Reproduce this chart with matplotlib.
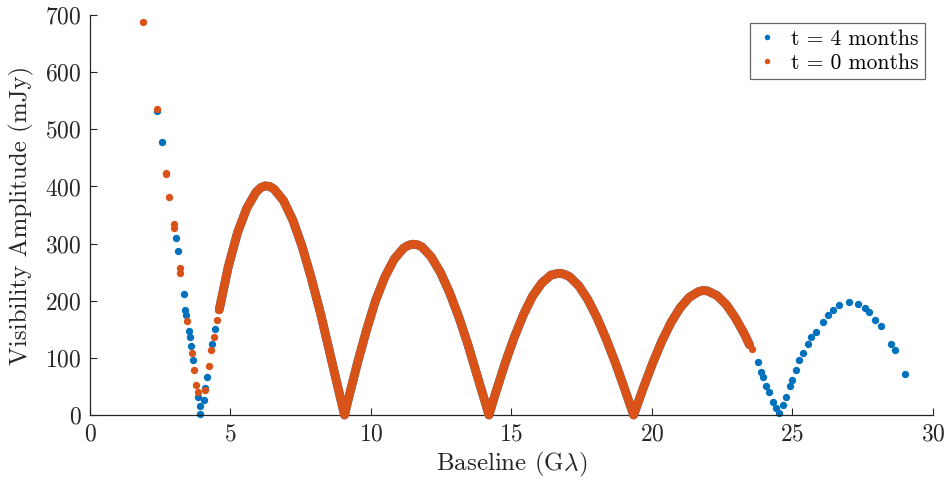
import matplotlib
matplotlib.use("Agg")
import matplotlib.pyplot as plt

plt.rcParams['font.family'] = 'cmr10'
plt.rcParams['mathtext.fontset'] = 'cm'
plt.rcParams['axes.unicode_minus'] = False
plt.rcParams['axes.formatter.use_mathtext'] = True

BLUE = '#0072BD'
ORANGE = '#D95319'
AXC = '#262626'

# densely sampled lobes, covered by both epochs
lobe_baseline = [4.60, 4.92, 5.25, 5.58, 5.91, 6.08, 6.24, 6.40, 6.56, 6.89, 7.22, 7.55, 7.88, 8.21,
                 8.53, 8.86, 9.06, 9.19, 9.52, 9.85, 10.17, 10.50, 10.83, 11.16, 11.33, 11.49,
                 11.65, 11.82, 12.14, 12.47, 12.80, 13.13, 13.46, 13.78, 14.11, 14.20, 14.44,
                 14.77, 15.10, 15.43, 15.75, 16.08, 16.41, 16.58, 16.74, 16.90, 17.07, 17.40, 17.72,
                 18.05, 18.38, 18.71, 19.04, 19.35, 19.69, 20.02, 20.35, 20.68, 21.01,
                 21.33, 21.66, 21.83, 21.99, 22.32, 22.65, 22.97, 23.30, 23.47]
lobe_amp = [184, 259, 319, 362, 390, 398, 401, 400, 395, 375, 341, 295, 239, 177,
            110, 41, 0, 27, 91, 150, 201, 242, 273, 292, 297, 299,
            298, 294, 277, 250, 214, 171, 122, 69, 15, 0, 39,
            90, 136, 176, 208, 231, 245, 247, 248, 246, 242, 226, 202,
            170, 132, 90, 44, 0, 47, 90, 129, 162, 188,
            206, 216, 218, 217, 209, 193, 170, 141, 123]

# isolated samples, t = 0 months
t0_baseline = [1.90, 2.38, 2.71, 2.72, 2.83, 2.98, 3.00, 3.19, 3.21, 3.45, 3.63, 3.71,
               3.79, 3.83, 4.11, 4.23, 4.31, 4.40, 4.52, 23.39, 23.55]
t0_amp = [687, 535, 424, 421, 381, 335, 328, 257, 249, 165, 108, 78,
          53, 40, 44, 85, 114, 137, 166, 131, 115]

# isolated samples, t = 4 months
t4_baseline = [2.40, 2.56, 3.05, 3.12, 3.33, 3.40, 3.43, 3.51, 3.55, 3.60, 3.67, 3.83,
               3.90, 3.93, 4.05, 4.11, 4.17, 4.35, 4.45,
               23.77, 23.89, 23.97, 24.07, 24.16, 24.30, 24.42, 24.54, 24.66, 24.78,
               24.90, 24.99, 25.13, 25.25, 25.37, 25.55, 25.67, 25.85, 26.08, 26.26,
               26.43, 26.67, 27.03, 27.32, 27.59, 27.74, 27.95, 28.16, 28.52, 28.64, 29.02]
t4_amp = [532, 477, 309, 287, 212, 184, 175, 147, 136, 120, 97, 32,
          15, 1, 27, 47, 66, 125, 150,
          92, 76, 67, 51, 41, 23, 12, 3, 17, 32,
          50, 61, 79, 96, 108, 125, 137, 146, 163, 175,
          184, 193, 197, 194, 187, 181, 167, 156, 125, 114, 72]

fig = plt.figure(figsize=(9.5, 4.87), dpi=100)
ax = fig.add_axes([0.0947, 0.1478, 0.8873, 0.8213])

ms = 5.3
lw = 6.3
# t = 4 months
ax.plot(lobe_baseline, lobe_amp, '-', color=BLUE, lw=lw, solid_capstyle='round',
        solid_joinstyle='round', clip_on=False, zorder=2)
ax.plot(t4_baseline, t4_amp, 'o', ls='none', color=BLUE, ms=ms, mew=0,
        clip_on=False, zorder=2, label='t = 4 months')
# t = 0 months
ax.plot(lobe_baseline, lobe_amp, '-', color=ORANGE, lw=lw, solid_capstyle='round',
        solid_joinstyle='round', clip_on=False, zorder=3)
ax.plot(t0_baseline, t0_amp, 'o', ls='none', color=ORANGE, ms=ms, mew=0,
        clip_on=False, zorder=3, label='t = 0 months')

ax.set_xlim(0, 30)
ax.set_ylim(0, 700)
ax.set_xticks(range(0, 31, 5))
ax.set_yticks(range(0, 701, 100))

for s in ['top', 'right']:
    ax.spines[s].set_visible(False)
for s in ['left', 'bottom']:
    ax.spines[s].set_color(AXC)
    ax.spines[s].set_linewidth(0.9)

ax.tick_params(direction='in', length=5, width=0.8, colors=AXC, labelsize=17, pad=6)

ax.set_xlabel(r'Baseline (G$\lambda$)', fontsize=18, color=AXC, labelpad=3)
ax.set_ylabel('Visibility Amplitude (mJy)', fontsize=18, color=AXC, labelpad=8)

leg = ax.legend(loc='upper right', bbox_to_anchor=(0.9905, 0.98), borderaxespad=0,
                fontsize=15.5, frameon=True, fancybox=False, markerscale=0.75,
                handlelength=1.0, handletextpad=0.6, borderpad=0.3, labelspacing=0.2)
leg.get_frame().set_edgecolor('#404040')
leg.get_frame().set_linewidth(0.9)

fig.savefig('out.png', dpi=100)
